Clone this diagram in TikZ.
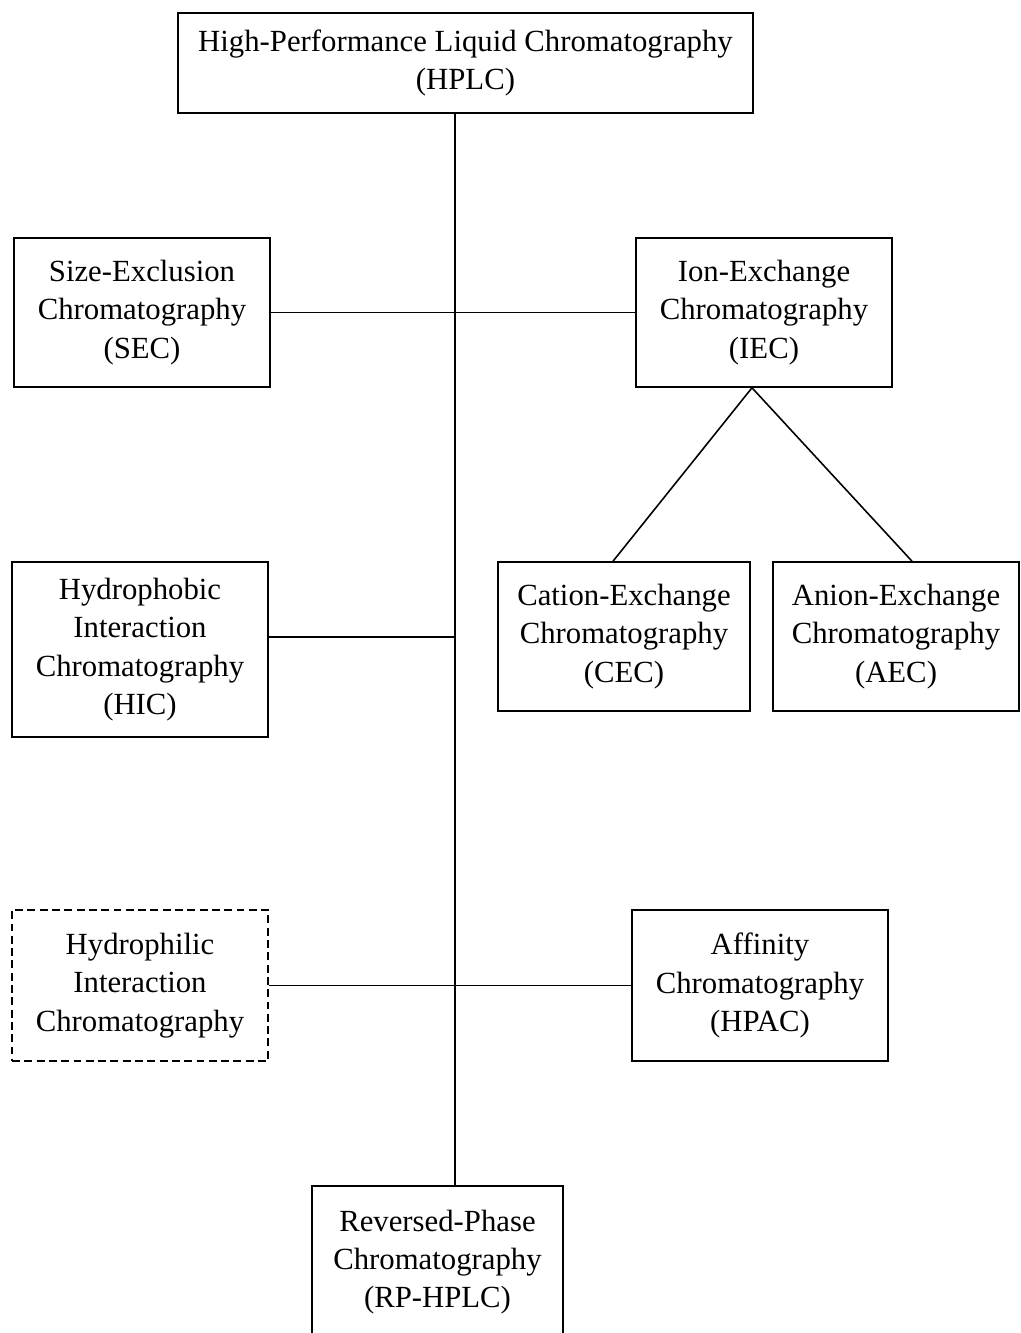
\documentclass[tikz,border=0pt]{standalone}
\usepackage{fontspec}
\setmainfont{Liberation Serif}
\usepackage{tikz}
\usetikzlibrary{shapes.geometric}

\begin{document}
\begin{tikzpicture}[
  line width=0.9pt,
  method/.style={draw, rectangle, align=center, inner sep=0pt,
    font=\fontsize{17.5}{21.8}\selectfont},
  dashbox/.style={method, dash pattern=on 4.5pt off 2.5pt},
]
\useasboundingbox (0,0) rectangle (20.42,-26.66);

\node[method, minimum width=11.5cm, minimum height=2cm] (HPLC) at (9.31,-1.26)
  {High-Performance Liquid Chromatography\\(HPLC)};
\node[method, minimum width=5.12cm, minimum height=2.98cm] (SEC) at (2.84,-6.25)
  {Size-Exclusion\\Chromatography\\(SEC)};
\node[method, minimum width=5.12cm, minimum height=2.98cm] (IEC) at (15.28,-6.25)
  {Ion-Exchange\\Chromatography\\(IEC)};
\node[method, minimum width=5.04cm, minimum height=2.98cm] (CEC) at (12.48,-12.73)
  {Cation-Exchange\\Chromatography\\(CEC)};
\node[method, minimum width=4.92cm, minimum height=2.98cm] (AEC) at (17.92,-12.73)
  {Anion-Exchange\\Chromatography\\(AEC)};
\node[method, minimum width=5.12cm, minimum height=3.5cm] (HIC) at (2.8,-12.99)
  {Hydrophobic\\Interaction\\Chromatography\\(HIC)};
\node[dashbox, minimum width=5.12cm, minimum height=3.02cm] (HILIC) at (2.8,-19.71)
  {Hydrophilic\\Interaction\\Chromatography};
\node[method, minimum width=5.12cm, minimum height=3.02cm] (HPAC) at (15.2,-19.71)
  {Affinity\\Chromatography\\(HPAC)};
\node[method, minimum width=5.02cm, minimum height=3.04cm] (RP) at (8.75,-25.24)
  {Reversed-Phase\\Chromatography\\(RP-HPLC)};

% main trunk
\coordinate (trunk) at (9.1,0);
\coordinate (hicjoin) at (9.1,-12.74);
\draw (HPLC.south -| trunk) -- (RP.north -| trunk);

% side branches
\draw (SEC.east) -- (IEC.west);
\draw (HIC.east |- hicjoin) -- (hicjoin);
\draw (HILIC.east) -- (HPAC.west);

% ion exchange split
\draw ([xshift=-0.24cm]IEC.south) -- ([xshift=-0.22cm]CEC.north);
\draw ([xshift=-0.24cm]IEC.south) -- ([xshift=0.32cm]AEC.north);

\end{tikzpicture}
\end{document}
